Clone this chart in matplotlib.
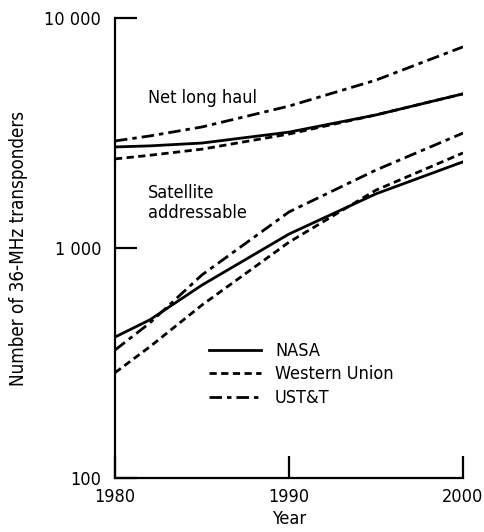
import matplotlib
matplotlib.use("Agg")
import matplotlib.pyplot as plt

plt.rcParams['font.family'] = ['DejaVu Sans']
plt.rcParams['font.stretch'] = 'condensed'

# values
years = [1980, 1982, 1985, 1990, 1995, 2000]

long_nasa = [2750, 2780, 2860, 3190, 3790, 4680]
long_wu = [2440, 2530, 2690, 3130, 3790, 4680]
long_ust = [2920, 3070, 3360, 4140, 5370, 7490]

sat_nasa = [410, 487, 690, 1150, 1720, 2370]
sat_wu = [287, 372, 565, 1060, 1785, 2590]
sat_ust = [360, 472, 764, 1435, 2183, 3160]

names = ['NASA', 'Western Union', 'UST&T']
yticks = [100, 1000, 10000]
ytick_labels = ['100', '1 000', '10 000']
xticks = [1980, 1990, 2000]

fig = plt.figure(figsize=(4.85, 5.32), dpi=100)
ax = fig.add_axes([115 / 485, 1 - 478 / 532, 348 / 485, 460 / 532])

lw = 2.0
solid = dict(color='black', lw=lw, linestyle='-')
dashed = dict(color='black', lw=lw, dashes=(2.6, 1.6))
dashdot = dict(color='black', lw=lw, dashes=(4.5, 1.8, 1.6, 1.8))

ax.plot(years, long_nasa, **solid, label=names[0])
ax.plot(years, long_wu, **dashed, label=names[1])
ax.plot(years, long_ust, **dashdot, label=names[2])
ax.plot(years, sat_nasa, **solid)
ax.plot(years, sat_wu, **dashed)
ax.plot(years, sat_ust, **dashdot)

ax.set_yscale('log')
ax.set_ylim(100, 10000)
ax.set_xlim(1980, 2000)
ax.set_yticks(yticks)
ax.set_yticklabels(ytick_labels)
ax.yaxis.set_minor_locator(matplotlib.ticker.NullLocator())
ax.set_xticks(xticks)
ax.set_xticklabels([str(x) for x in xticks])

for s in ['top', 'right']:
    ax.spines[s].set_visible(False)
for s in ['left', 'bottom']:
    ax.spines[s].set_linewidth(1.6)
ax.tick_params(axis='both', direction='in', length=16, width=1.6, labelsize=13)
ax.tick_params(axis='y', pad=10)
ax.tick_params(axis='x', pad=7)

ax.set_xlabel('Year', fontsize=13, labelpad=3)
ax.set_ylabel('Number of 36-MHz transponders', fontsize=13.5, labelpad=12)

ax.text(1981.9, 4490, 'Net long haul', fontsize=13, va='center', ha='left')
ax.text(1981.9, 1736, 'Satellite', fontsize=13, va='center', ha='left')
ax.text(1981.9, 1418, 'addressable', fontsize=13, va='center', ha='left')

ax.legend(loc='upper left', bbox_to_anchor=(209 / 485, 1 - 342 / 532),
          bbox_transform=fig.transFigure, frameon=False, fontsize=13,
          handlelength=2.9, handletextpad=0.75, labelspacing=0.3, borderpad=0,
          borderaxespad=0)

fig.savefig('out.png', dpi=100)
